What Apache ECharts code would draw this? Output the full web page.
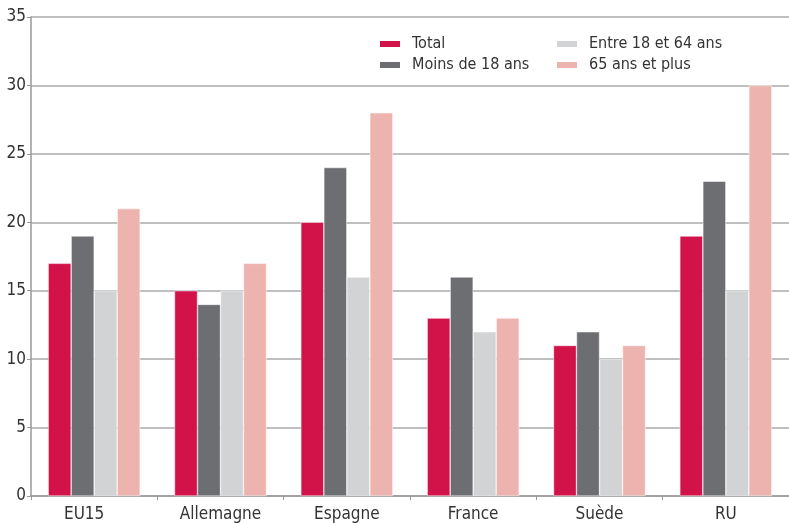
<!DOCTYPE html>
<html><head><meta charset="utf-8">
<script src="https://cdn.jsdelivr.net/npm/echarts@6/dist/echarts.min.js"></script>
<style>html,body{margin:0;padding:0;background:#fff}#c{width:789px;height:523px}</style>
</head><body><div id="c"></div>
<script>
const categories = ['EU15','Allemagne','Espagne','France','Suède','RU'];
const total = [17,15,20,13,11,19];
const moins18 = [19,14,24,16,12,23];
const entre18_64 = [15,15,16,12,10,15];
const plus65 = [21,17,28,13,11,30];
const seriesNames = ['Total','Moins de 18 ans','Entre 18 et 64 ans','65 ans et plus'];
const colors = ['#D2134A','#6D6E71','#D1D3D4','#EDB3AF'];
const font = '"DejaVu Sans Condensed","Liberation Sans Narrow","Liberation Sans",Arial,sans-serif';
const chart = echarts.init(document.getElementById('c'));
const mk = (name, data, i) => ({
  name, type:'bar', data, barWidth:23, barGap:'0%',
  itemStyle:{color:colors[i], borderColor:'#fff', borderWidth:0.5},
  animation:false
});
const legText = {fontFamily:font, fontSize:16, color:'#333', padding:[0,0,0,6]};
chart.setOption({
  animation:false,
  textStyle:{fontFamily:font},
  grid:{left:31, top:17, width:760, height:480, containLabel:false},
  legend:[
    {data:['Total','Moins de 18 ans'], orient:'vertical', left:373, top:31, itemWidth:22, itemHeight:8, itemGap:5,
     icon:'rect', textStyle:legText},
    {data:['Entre 18 et 64 ans','65 ans et plus'], orient:'vertical', left:550, top:31, itemWidth:22, itemHeight:8, itemGap:5,
     icon:'rect', textStyle:legText}
  ],
  xAxis:{type:'category', data:categories,
    axisLine:{lineStyle:{color:'#999', width:1.5}},
    axisTick:{show:true, length:4, lineStyle:{color:'#999'}},
    axisLabel:{fontFamily:font, fontSize:17, color:'#333', margin:10,
      formatter:(v, i) => i === 0 ? '{s|' + v + '}' : v,
      rich:{s:{fontFamily:font, fontSize:17, color:'#333', padding:[0,20,0,0]}}}},
  yAxis:{type:'value', min:0, max:35, interval:5,
    axisLine:{show:true, lineStyle:{color:'#999', width:1.5}},
    axisTick:{show:true, length:4, lineStyle:{color:'#999'}},
    splitLine:{lineStyle:{color:'#aaa', width:1.5}},
    axisLabel:{fontFamily:font, fontSize:17, color:'#333', margin:5}},
  series:[mk(seriesNames[0], total, 0), mk(seriesNames[1], moins18, 1), mk(seriesNames[2], entre18_64, 2), mk(seriesNames[3], plus65, 3)]
});
</script></body></html>
